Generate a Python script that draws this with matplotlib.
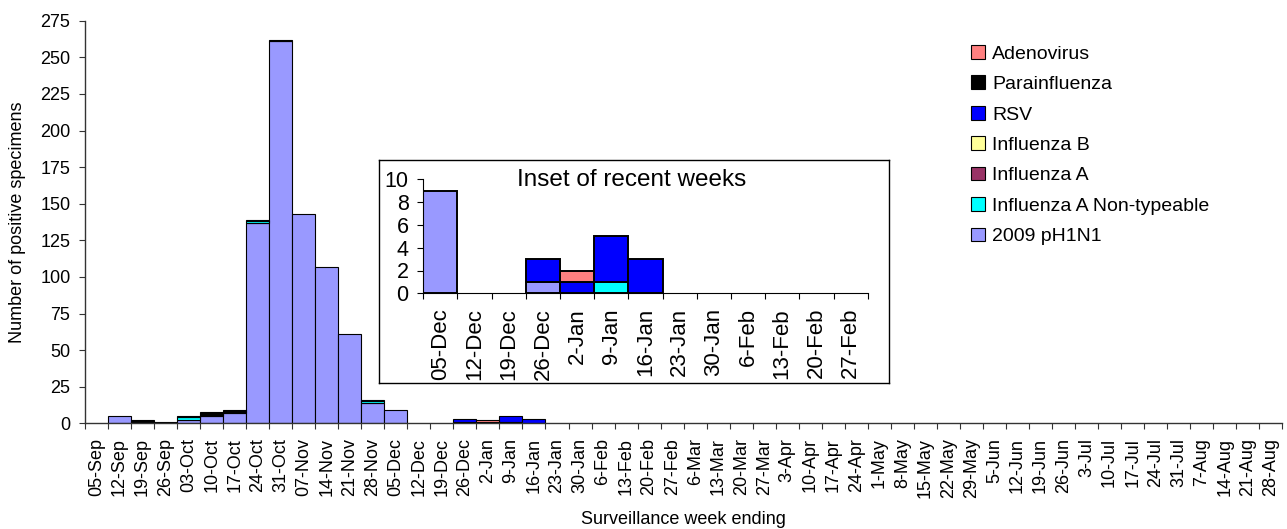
import matplotlib
matplotlib.use("Agg")
import matplotlib.pyplot as plt
from matplotlib.patches import Patch
import numpy as np

plt.rcParams['font.family'] = ['Liberation Sans', 'DejaVu Sans']

weeks = ["05-Sep", "12-Sep", "19-Sep", "26-Sep", "03-Oct", "10-Oct", "17-Oct", "24-Oct", "31-Oct",
         "07-Nov", "14-Nov", "21-Nov", "28-Nov", "05-Dec", "12-Dec", "19-Dec", "26-Dec",
         "2-Jan", "9-Jan", "16-Jan", "23-Jan", "30-Jan", "6-Feb", "13-Feb", "20-Feb", "27-Feb",
         "6-Mar", "13-Mar", "20-Mar", "27-Mar", "3-Apr", "10-Apr", "17-Apr", "24-Apr",
         "1-May", "8-May", "15-May", "22-May", "29-May", "5-Jun", "12-Jun", "19-Jun", "26-Jun",
         "3-Jul", "10-Jul", "17-Jul", "24-Jul", "31-Jul", "7-Aug", "14-Aug", "21-Aug", "28-Aug"]
n = len(weeks)

def pad(vals):
    return list(vals) + [0] * (n - len(vals))

ph1n1 = pad([0, 5, 0, 0, 2, 5, 7, 137, 261, 143, 107, 61, 14, 9, 0, 0, 1, 0, 0, 0])
flu_a_nt = pad([0, 0, 1, 0, 2, 0, 1, 1, 0, 0, 0, 0, 1, 0, 0, 0, 0, 0, 1, 0])
flu_a = pad([])
flu_b = pad([])
rsv = pad([0, 0, 0, 0, 0, 1, 0, 0, 0, 0, 0, 0, 0, 0, 0, 0, 2, 1, 4, 3])
parainfluenza = pad([0, 0, 1, 1, 1, 2, 1, 1, 1, 0, 0, 0, 1, 0, 0, 0, 0, 0, 0, 0])
adenovirus = pad([0, 0, 0, 0, 0, 0, 0, 0, 0, 0, 0, 0, 0, 0, 0, 0, 0, 1, 0, 0])

series_names = ["2009 pH1N1", "Influenza A Non-typeable", "Influenza A", "Influenza B",
                "RSV", "Parainfluenza", "Adenovirus"]
series_vals = [ph1n1, flu_a_nt, flu_a, flu_b, rsv, parainfluenza, adenovirus]
series_colors = ["#9999FF", "#00FFFF", "#993366", "#FFFF99", "#0000FF", "#000000", "#FF8080"]

inset_start, inset_end = 13, 26  # 05-Dec .. 27-Feb

W, H = 1287, 529
fig = plt.figure(figsize=(W / 100, H / 100), dpi=100)

def fx(px):
    return px / W

def fy(py):
    return (H - py) / H

axis_col = "#333333"

# ---- main axes ----
ax = fig.add_axes([fx(85), fy(423.3), fx(1282.3) - fx(85), fy(20.7) - fy(423.3)])
x = np.arange(n) + 0.5
bottom = np.zeros(n)
handles = []
for name, vals, col in zip(series_names, series_vals, series_colors):
    v = np.array(vals, dtype=float)
    nz = v > 0
    ax.bar(x[nz], v[nz], width=1.0, bottom=bottom[nz], color=col, edgecolor="black", linewidth=0.8)
    handles.append(Patch(facecolor=col, edgecolor="black", linewidth=0.8, label=name))
    bottom += v

ax.set_xlim(0, n)
ax.set_ylim(0, 275)
ax.set_yticks(np.arange(0, 276, 25))
ax.set_xticks(np.arange(0, n + 1))
ax.set_xticklabels([])
ax.set_xticks(x, minor=True)
ax.set_xticklabels(weeks, minor=True, rotation=90, fontsize=13)
ax.tick_params(axis="x", which="major", length=4.3, direction="out", color=axis_col)
ax.tick_params(axis="x", which="minor", length=0, pad=10.5)
ax.tick_params(axis="y", length=4.3, direction="out", pad=6.2, labelsize=13, color=axis_col)
for s in ["top", "right"]:
    ax.spines[s].set_visible(False)
for s in ["left", "bottom"]:
    ax.spines[s].set_color(axis_col)
    ax.spines[s].set_linewidth(1.0)

fig.text(fx(18), fy(222), "Number of positive specimens", rotation=90, ha="center", va="center", fontsize=13)
fig.text(fx(683), fy(519), "Surveillance week ending", ha="center", va="center", fontsize=13)

# ---- legend ----
fig.legend(handles[::-1], series_names[::-1], loc="upper left", bbox_to_anchor=(fx(971), fy(45)),
           frameon=False, fontsize=14, handlelength=0.7, handleheight=0.7,
           handletextpad=0.38, labelspacing=0.66, borderpad=0, borderaxespad=0)

# ---- inset frame ----
frame = fig.add_axes([fx(379), fy(383.3), fx(889.3) - fx(379), fy(160) - fy(383.3)])
frame.set_xticks([])
frame.set_yticks([])
frame.set_facecolor("white")
for s in frame.spines.values():
    s.set_color("black")
    s.set_linewidth(1.0)

# ---- inset axes ----
m = inset_end - inset_start
axi = fig.add_axes([fx(423.3), fy(293.3), fx(867.7) - fx(423.3), fy(179.3) - fy(293.3)])
axi.patch.set_alpha(0)
xi = np.arange(m) + 0.5
bot = np.zeros(m)
for name, vals, col in zip(series_names, series_vals, series_colors):
    v = np.array(vals[inset_start:inset_end], dtype=float)
    nz = v > 0
    axi.bar(xi[nz], v[nz], width=1.0, bottom=bot[nz], color=col, edgecolor="black", linewidth=1.4)
    bot += v
axi.set_xlim(0, m)
axi.set_ylim(0, 10)
axi.set_yticks(np.arange(0, 11, 2))
axi.set_xticks(np.arange(0, m + 1))
axi.set_xticklabels([])
axi.set_xticks(xi, minor=True)
axi.set_xticklabels(weeks[inset_start:inset_end], minor=True, rotation=90, fontsize=16)
axi.tick_params(axis="x", which="major", length=4.3, direction="out", color="black")
axi.tick_params(axis="x", which="minor", length=0, pad=10.5)
axi.tick_params(axis="y", length=4.3, direction="out", pad=6.2, labelsize=15.5)
for s in ["top", "right"]:
    axi.spines[s].set_visible(False)
fig.text(fx(632), fy(180), "Inset of recent weeks", ha="center", va="center", fontsize=17.5)

fig.savefig("out.png", dpi=100)
